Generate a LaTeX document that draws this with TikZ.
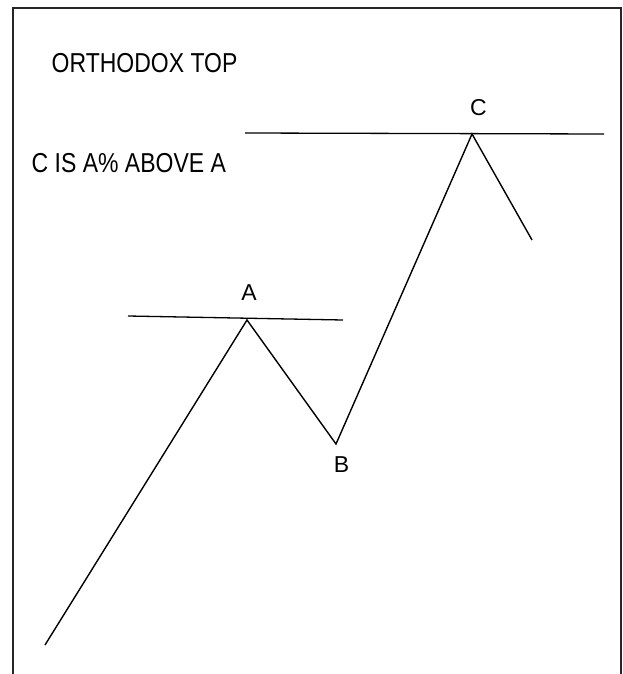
\documentclass[tikz,border=0pt]{standalone}
\usepackage{graphicx}
\usepackage{fontspec}
\setmainfont{Liberation Sans}
\begin{document}
\begin{tikzpicture}[x=1pt,y=-1pt,
  lbl/.style={inner sep=0pt,anchor=base,font=\fontsize{23}{26}\selectfont},
  title/.style={inner sep=0pt,anchor=base west,font=\fontsize{23}{26}\selectfont},
  wave/.style={line width=1.4pt,line join=miter},
  level/.style={line width=1.3pt},
  frame/.style={line width=2pt,draw=black!85}]
\useasboundingbox (0,0) rectangle (623,674);
\draw[frame] (13,674) -- (13,8) -- (621,8) -- (621,674);
\coordinate (s) at (45,645);
\coordinate (a) at (247,320);
\coordinate (b) at (336,444);
\coordinate (c) at (472,134);
\coordinate (e) at (532,240);
\coordinate (al) at (128,316);
\coordinate (ar) at (343,320);
\coordinate (cl) at (245,133);
\coordinate (cr) at (604,134);
\draw[wave] (s) -- (a) -- (b) -- (c) -- (e);
\draw[level] (al) -- (ar);
\draw[level] (cl) -- (cr);
\node[lbl] (la) at (249,300) {A};
\node[lbl] (lb) at (341.5,472) {B};
\node[lbl] (lc) at (478.5,115.5) {C};
\node[title] (t1) at (51.5,72.3) {\scalebox{1}[1.19]{ORTHODOX TOP}};
\node[title] (t2) at (31.5,172.3) {\scalebox{1}[1.19]{C IS A\% ABOVE A}};
\end{tikzpicture}
\end{document}
